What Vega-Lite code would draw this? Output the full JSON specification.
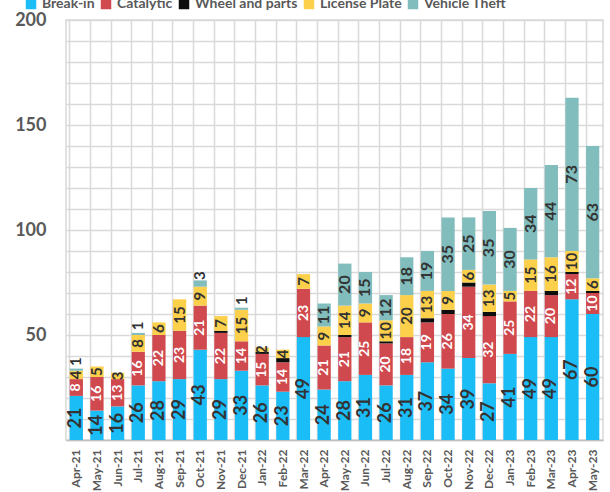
{
  "$schema": "https://vega.github.io/schema/vega-lite/v6.json",
  "autosize": {"type": "none"},
  "width": 537,
  "height": 420,
  "padding": {"left": 66, "top": 20, "right": 7, "bottom": 52},
  "background": "white",
  "config": {
    "font": "Lato",
    "view": {"stroke": "#d9d9d9", "strokeWidth": 1.5},
    "axisY": {"labelOverlap": false}
  },
  "data": {
    "values": [
      {"m": "Apr-21", "Break-in": 21, "Catalytic": 8, "Wheel and parts": 0, "License Plate": 4, "Vehicle Theft": 1},
      {"m": "May-21", "Break-in": 14, "Catalytic": 16, "Wheel and parts": 0, "License Plate": 5, "Vehicle Theft": 0},
      {"m": "Jun-21", "Break-in": 16, "Catalytic": 13, "Wheel and parts": 0, "License Plate": 3, "Vehicle Theft": 0},
      {"m": "Jul-21", "Break-in": 26, "Catalytic": 16, "Wheel and parts": 0, "License Plate": 8, "Vehicle Theft": 1},
      {"m": "Aug-21", "Break-in": 28, "Catalytic": 22, "Wheel and parts": 0, "License Plate": 6, "Vehicle Theft": 0},
      {"m": "Sep-21", "Break-in": 29, "Catalytic": 23, "Wheel and parts": 0, "License Plate": 15, "Vehicle Theft": 0},
      {"m": "Oct-21", "Break-in": 43, "Catalytic": 21, "Wheel and parts": 0, "License Plate": 9, "Vehicle Theft": 3},
      {"m": "Nov-21", "Break-in": 29, "Catalytic": 22, "Wheel and parts": 1, "License Plate": 7, "Vehicle Theft": 0},
      {"m": "Dec-21", "Break-in": 33, "Catalytic": 14, "Wheel and parts": 0, "License Plate": 15, "Vehicle Theft": 1},
      {"m": "Jan-22", "Break-in": 26, "Catalytic": 15, "Wheel and parts": 1, "License Plate": 2, "Vehicle Theft": 0},
      {"m": "Feb-22", "Break-in": 23, "Catalytic": 14, "Wheel and parts": 2, "License Plate": 4, "Vehicle Theft": 0},
      {"m": "Mar-22", "Break-in": 49, "Catalytic": 23, "Wheel and parts": 0, "License Plate": 7, "Vehicle Theft": 0},
      {"m": "Apr-22", "Break-in": 24, "Catalytic": 21, "Wheel and parts": 0, "License Plate": 9, "Vehicle Theft": 11},
      {"m": "May-22", "Break-in": 28, "Catalytic": 21, "Wheel and parts": 1, "License Plate": 14, "Vehicle Theft": 20},
      {"m": "Jun-22", "Break-in": 31, "Catalytic": 25, "Wheel and parts": 0, "License Plate": 9, "Vehicle Theft": 15},
      {"m": "Jul-22", "Break-in": 26, "Catalytic": 20, "Wheel and parts": 1, "License Plate": 10, "Vehicle Theft": 12},
      {"m": "Aug-22", "Break-in": 31, "Catalytic": 18, "Wheel and parts": 0, "License Plate": 20, "Vehicle Theft": 18},
      {"m": "Sep-22", "Break-in": 37, "Catalytic": 19, "Wheel and parts": 2, "License Plate": 13, "Vehicle Theft": 19},
      {"m": "Oct-22", "Break-in": 34, "Catalytic": 26, "Wheel and parts": 2, "License Plate": 9, "Vehicle Theft": 35},
      {"m": "Nov-22", "Break-in": 39, "Catalytic": 34, "Wheel and parts": 2, "License Plate": 6, "Vehicle Theft": 25},
      {"m": "Dec-22", "Break-in": 27, "Catalytic": 32, "Wheel and parts": 2, "License Plate": 13, "Vehicle Theft": 35},
      {"m": "Jan-23", "Break-in": 41, "Catalytic": 25, "Wheel and parts": 0, "License Plate": 5, "Vehicle Theft": 30},
      {"m": "Feb-23", "Break-in": 49, "Catalytic": 22, "Wheel and parts": 0, "License Plate": 15, "Vehicle Theft": 34},
      {"m": "Mar-23", "Break-in": 49, "Catalytic": 20, "Wheel and parts": 2, "License Plate": 16, "Vehicle Theft": 44},
      {"m": "Apr-23", "Break-in": 67, "Catalytic": 12, "Wheel and parts": 1, "License Plate": 10, "Vehicle Theft": 73},
      {"m": "May-23", "Break-in": 60, "Catalytic": 10, "Wheel and parts": 1, "License Plate": 6, "Vehicle Theft": 63}
    ]
  },
  "transform": [
    {"fold": ["Break-in", "Catalytic", "Wheel and parts", "License Plate", "Vehicle Theft"], "as": ["cat", "v"]}
  ],
  "encoding": {
    "x": {
      "field": "m", "type": "ordinal", "sort": null,
      "scale": {"paddingInner": 0.36, "paddingOuter": 0.18},
      "axis": {
        "title": null, "labelAngle": 270, "labelFontSize": 12, "labelFontWeight": "bold",
        "labelColor": "#595959", "labelPadding": 9, "ticks": false,
        "domainColor": "#bfbfbf", "domainWidth": 1.5,
        "grid": true, "bandPosition": 0, "gridColor": "#d9d9d9", "gridWidth": 1.5
      }
    },
    "color": {
      "field": "cat", "type": "nominal",
      "sort": ["Break-in", "Catalytic", "Wheel and parts", "License Plate", "Vehicle Theft"],
      "scale": {
        "domain": ["Break-in", "Catalytic", "Wheel and parts", "License Plate", "Vehicle Theft"],
        "range": ["#1bbdf7", "#d0494e", "#0d0d0d", "#fcd04b", "#80bdbc"]
      },
      "legend": {
        "title": null, "orient": "none", "direction": "horizontal",
        "legendX": -42, "legendY": -23, "symbolType": "square", "symbolSize": 110,
        "symbolStrokeWidth": 0, "labelFontSize": 14, "labelFontWeight": "bold",
        "labelColor": "#595959", "labelOffset": 4, "columnPadding": 4, "padding": 0
      }
    },
    "order": {"field": "ord", "type": "quantitative"}
  },
  "layer": [
    {
      "mark": {"type": "bar"},
      "encoding": {
        "y": {
          "field": "v", "type": "quantitative", "stack": "zero",
          "scale": {"domain": [0, 200], "nice": false},
          "axis": {
            "title": null, "values": [0,10,20,30,40,50,60,70,80,90,100,110,120,130,140,150,160,170,180,190,200],
            "labelExpr": "datum.value % 50 === 0 && datum.value > 0 ? datum.label : ''",
            "labelOverlap": false,
            "labelFontSize": 18, "labelFontWeight": "bold", "labelColor": "#595959",
            "labelPadding": 20, "ticks": false, "domain": false,
            "gridColor": "#d9d9d9", "gridWidth": 1.5
          }
        }
      }
    },
    {
      "mark": {"type": "text", "angle": 270, "align": "center", "baseline": "middle", "fontWeight": "bold"},
      "encoding": {
        "y": {
          "field": "v", "type": "quantitative", "stack": "zero", "bandPosition": 0.5,
          "axis": {
            "title": null, "values": [0,10,20,30,40,50,60,70,80,90,100,110,120,130,140,150,160,170,180,190,200],
            "labelExpr": "datum.value % 50 === 0 && datum.value > 0 ? datum.label : ''",
            "labelOverlap": false,
            "labelFontSize": 18, "labelFontWeight": "bold", "labelColor": "#595959",
            "labelPadding": 20, "ticks": false, "domain": false,
            "gridColor": "#d9d9d9", "gridWidth": 1.5
          }
        },
        "text": {"field": "v", "type": "quantitative"},
        "fill": {
          "condition": {"test": "datum.cat === 'Catalytic'", "value": "white"},
          "value": "#333333"
        },
        "size": {
          "condition": [
            {"test": "datum.cat === 'Break-in'", "value": 18},
            {"test": "datum.cat === 'Catalytic'", "value": 14},
            {"test": "datum.cat === 'Vehicle Theft'", "value": 16}
          ],
          "value": 15
        },
        "opacity": {
          "condition": {"test": "datum.v === 0 || datum.cat === 'Wheel and parts' || (datum.cat === 'Vehicle Theft' && datum.v <= 3)", "value": 0},
          "value": 1
        }
      }
    },
    {
      "mark": {"type": "text", "angle": 270, "align": "center", "baseline": "middle", "fontWeight": "bold", "dx": 8, "fontSize": 15, "fill": "#333333"},
      "encoding": {
        "y": {
          "field": "v", "type": "quantitative", "stack": "zero", "bandPosition": 0.5,
          "axis": {
            "title": null, "values": [0,10,20,30,40,50,60,70,80,90,100,110,120,130,140,150,160,170,180,190,200],
            "labelExpr": "datum.value % 50 === 0 && datum.value > 0 ? datum.label : ''",
            "labelOverlap": false,
            "labelFontSize": 18, "labelFontWeight": "bold", "labelColor": "#595959",
            "labelPadding": 20, "ticks": false, "domain": false,
            "gridColor": "#d9d9d9", "gridWidth": 1.5
          }
        },
        "text": {"field": "v", "type": "quantitative"},
        "opacity": {
          "condition": {"test": "datum.cat === 'Vehicle Theft' && datum.v > 0 && datum.v <= 3", "value": 1},
          "value": 0
        }
      }
    }
  ]
}
